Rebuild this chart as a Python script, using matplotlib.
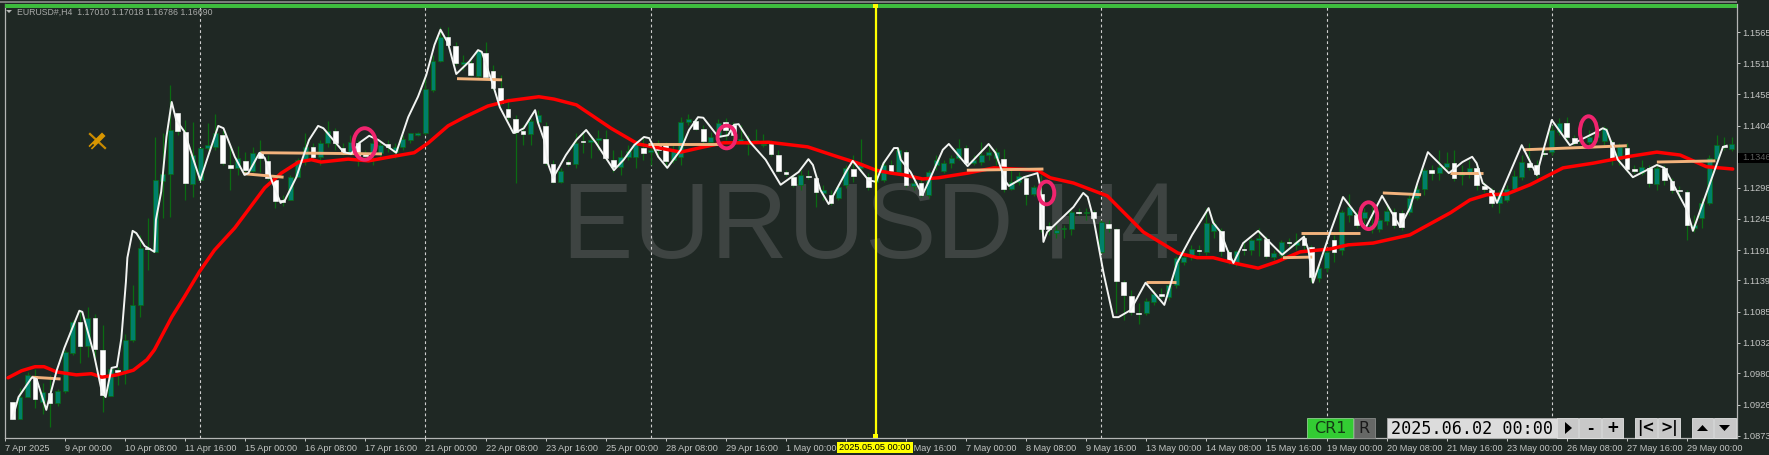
import matplotlib
matplotlib.use("Agg")
import numpy as np
import matplotlib.pyplot as plt
from matplotlib.patches import Rectangle, Ellipse, Polygon

# EURUSD H4 chart, prices are written in 1/10000 (10931 = 1.0931)
opens = [10931,10901,10939,10975,10931,10946,10929,10949,11015,11068,11027,11075,11020,10941,10985,10984,11037,11097,11195,11188,
11310,11322,11426,11394,11304,11311,11366,11368,11388,11337,11332,11344,11327,11358,11344,11311,11277,11277,11316,11346,
11368,11351,11375,11395,11366,11358,11375,11358,11358,11358,11373,11359,11368,11380,11388,11392,11466,11515,11557,11541,
11510,11512,11490,11529,11498,11469,11433,11416,11395,11390,11411,11404,11339,11308,11342,11339,11378,11376,11380,11382,
11346,11334,11351,11351,11366,11359,11371,11373,11346,11351,11411,11412,11399,11376,11385,11411,11406,11378,11373,11378,
11371,11373,11354,11325,11316,11303,11318,11315,11289,11286,11280,11303,11330,11332,11316,11308,11311,11337,11325,11359,
11301,11306,11286,11337,11327,11340,11349,11366,11340,11342,11354,11349,11347,11296,11308,11315,11287,11287,11232,11220,
11227,11227,11256,11255,11256,11188,11236,11227,11136,11112,11083,11083,11102,11116,11111,11131,11171,11183,11191,11188,
11224,11224,11188,11169,11193,11191,11208,11210,11179,11183,11205,11200,11212,11196,11143,11160,11208,11191,11251,11251,
11246,11227,11227,11241,11256,11255,11256,11280,11296,11328,11323,11334,11340,11320,11325,11332,11301,11294,11272,11277,
11296,11316,11340,11337,11358,11359,11394,11409,11383,11375,11376,11385,11378,11376,11347,11366,11330,11323,11332,11304,
11332,11310,11294,11291,11229,11246,11272,11347,11370,11364]
highs = [10931,10955,10982,10987,10963,10977,10953,11020,11071,11088,11093,11081,11063,10987,10991,11047,11131,11217,11246,11385,
11392,11474,11426,11414,11411,11366,11409,11424,11397,11368,11370,11359,11368,11380,11354,11320,11286,11320,11349,11392,
11375,11380,11412,11400,11375,11388,11380,11363,11388,11380,11380,11375,11388,11392,11394,11491,11526,11574,11574,11548,
11526,11517,11534,11548,11509,11491,11452,11423,11406,11418,11431,11411,11346,11332,11346,11392,11395,11388,11397,11397,
11363,11363,11371,11380,11383,11375,11380,11376,11371,11419,11424,11418,11406,11394,11416,11418,11411,11406,11388,11399,
11390,11380,11363,11328,11320,11328,11328,11320,11303,11294,11303,11337,11354,11382,11323,11328,11342,11346,11366,11363,
11320,11315,11328,11354,11346,11354,11382,11371,11354,11376,11371,11366,11364,11328,11325,11318,11303,11320,11239,11234,
11234,11260,11263,11263,11260,11243,11243,11229,11140,11123,11100,11109,11123,11126,11135,11181,11191,11200,11200,11263,
11243,11229,11191,11191,11208,11212,11229,11215,11191,11208,11212,11220,11217,11200,11166,11195,11217,11260,11287,11256,
11263,11268,11246,11268,11263,11260,11286,11303,11332,11337,11363,11359,11363,11337,11346,11337,11308,11298,11294,11303,
11328,11354,11375,11346,11366,11406,11418,11419,11388,11383,11397,11406,11404,11380,11375,11375,11337,11346,11337,11337,
11337,11315,11301,11294,11251,11280,11354,11388,11385,11385]
lows = [10901,10901,10939,10920,10910,10888,10924,10946,11011,10997,11008,11006,10913,10941,10960,10961,11033,11076,11157,11188,
11246,11248,11388,11277,11282,11311,11363,11363,11337,11294,11320,11325,11325,11325,11311,11263,11267,11277,11316,11337,
11346,11337,11368,11363,11354,11354,11335,11346,11337,11349,11359,11349,11363,11375,11387,11388,11462,11514,11541,11509,
11500,11490,11486,11483,11466,11440,11414,11306,11371,11371,11406,11337,11306,11306,11335,11332,11358,11349,11363,11346,
11325,11320,11346,11332,11346,11337,11354,11337,11340,11337,11406,11397,11375,11375,11380,11380,11380,11375,11354,11375,
11368,11352,11325,11318,11299,11294,11313,11265,11277,11268,11277,11298,11308,11325,11294,11298,11308,11323,11320,11299,
11294,11282,11280,11328,11323,11332,11346,11337,11337,11337,11346,11337,11291,11294,11303,11268,11284,11222,11217,11212,
11212,11217,11251,11243,11239,11186,11222,11083,11071,11080,11064,11080,11097,11109,11105,11126,11166,11174,11183,11183,
11212,11181,11167,11164,11183,11183,11181,11178,11174,11178,11198,11191,11191,11136,11136,11154,11171,11183,11239,11229,
11236,11220,11222,11234,11229,11226,11251,11277,11286,11311,11311,11328,11310,11303,11315,11294,11291,11265,11255,11274,
11291,11311,11328,11315,11352,11354,11388,11382,11371,11368,11371,11376,11371,11337,11337,11325,11323,11320,11299,11294,
11303,11289,11280,11208,11222,11229,11268,11346,11363,11361]
closes = [10901,10939,10977,10936,10948,10929,10949,11016,11068,11027,11075,11021,10943,10987,10982,11037,11097,11195,11193,11311,
11322,11397,11395,11306,11354,11366,11371,11392,11340,11332,11349,11328,11358,11349,11315,11275,11274,11316,11346,11368,
11351,11375,11395,11375,11359,11376,11352,11352,11375,11371,11368,11368,11382,11392,11392,11467,11515,11557,11543,11512,
11514,11491,11533,11488,11469,11443,11419,11394,11390,11412,11423,11340,11308,11327,11339,11375,11376,11380,11383,11349,
11334,11351,11361,11373,11358,11363,11363,11344,11363,11411,11416,11399,11378,11385,11409,11397,11388,11382,11376,11380,
11373,11356,11327,11322,11303,11320,11316,11291,11294,11272,11299,11332,11318,11340,11299,11320,11337,11327,11363,11303,
11306,11286,11325,11346,11340,11349,11366,11340,11346,11354,11359,11359,11296,11308,11318,11287,11299,11227,11227,11226,
11229,11256,11255,11256,11246,11239,11229,11138,11114,11085,11081,11104,11116,11112,11131,11178,11179,11193,11190,11238,
11236,11190,11171,11190,11191,11208,11212,11181,11186,11205,11203,11205,11200,11145,11160,11188,11188,11256,11265,11234,
11256,11234,11243,11258,11234,11231,11280,11296,11328,11323,11334,11340,11315,11325,11332,11303,11296,11272,11286,11296,
11318,11342,11334,11322,11356,11397,11409,11385,11375,11376,11385,11392,11400,11349,11368,11330,11327,11334,11306,11332,
11311,11294,11292,11234,11234,11272,11349,11371,11368,11373]

# fast smoothed line (white)
white_bar = [0.0,0.8,2.6,3.2,4.5,4.9,5.9,6.9,8.9,9.3,10.8,11.9,12.4,13.2,13.9,14.5,15.1,15.3,16.0,16.5,17.6,18.9,19.1,19.8,20.5,21.2,21.8,22.9,24.1,25.0,
26.1,27.4,28.1,29.6,30.9,31.4,32.9,33.6,34.5,35.7,36.3,37.8,38.7,39.5,40.7,41.4,44.1,45.1,46.2,47.5,48.7,51.1,52.7,54.0,55.1,56.2,57.0,58.0,59.1,60.8,
62.0,62.5,64.0,64.9,66.7,66.9,68.1,69.6,70.0,70.8,71.3,72.0,73.7,75.1,76.4,77.7,80.1,81.4,82.8,84.1,84.8,86.0,87.2,89.0,90.1,91.3,92.0,94.0,95.3,96.1,
96.7,98.3,100.3,102.3,104.7,106.0,106.6,107.6,108.7,111.0,111.9,114.0,115.0,116.0,117.4,117.9,118.3,119.6,121.2,122.0,123.9,124.7,127.2,130.0,130.9,132.3,132.7,134.7,136.5,136.9,
137.3,137.8,141.3,142.6,143.2,144.0,145.3,146.6,147.3,148.9,150.9,153.4,155.1,157.1,159.3,159.9,160.9,161.8,162.6,163.9,165.9,169.1,172.0,172.6,173.2,175.5,177.2,179.1,180.2,182.4,
184.8,186.1,187.1,188.5,191.3,193.1,194.4,195.0,195.8,197.0,197.7,201.0,203.0,203.8,205.0,207.4,210.7,211.8,212.3,213.8,215.8,219.0,220.0,223.0,223.8,227.8,228.3]
white_val = [10903,10939,10973,10970,10917,10937,10985,11023,11087,11085,11015,10948,10939,10989,10991,11040,11136,11178,11224,11220,11198,11188,11243,11291,11385,11445,11414,11394,11346,11311,
11354,11404,11400,11351,11320,11323,11358,11349,11311,11272,11277,11316,11351,11380,11404,11400,11359,11356,11375,11387,11380,11358,11419,11454,11491,11543,11569,11546,11493,11514,
11534,11531,11474,11436,11392,11392,11400,11431,11409,11380,11340,11315,11354,11380,11397,11375,11328,11346,11371,11385,11383,11351,11332,11363,11397,11419,11418,11385,11388,11406,
11407,11375,11346,11303,11325,11347,11337,11294,11270,11325,11344,11311,11308,11340,11366,11366,11346,11325,11286,11308,11363,11373,11335,11373,11358,11308,11301,11316,11323,11299,
11205,11222,11265,11289,11282,11243,11152,11076,11076,11088,11135,11097,11169,11217,11263,11238,11222,11191,11169,11203,11224,11183,11214,11191,11135,11222,11282,11250,11229,11284,
11231,11263,11306,11359,11323,11342,11351,11340,11306,11294,11272,11371,11320,11359,11414,11371,11392,11400,11397,11346,11316,11337,11332,11260,11224,11368,11370]

# slow moving average (red)
red_bar = [-0.6,1.2,3.0,4.2,5.9,8.5,10.5,11.9,13.9,16.1,17.9,18.9,21.2,22.9,24.9,26.9,29.6,31.4,33.6,35.8,38.1,39.8,41.1,44.7,47.4,50.4,53.5,55.4,58.0,60.2,
63.3,66.0,70.1,72.1,75.1,79.7,83.3,85.4,89.0,92.1,94.7,97.9,100.7,105.9,109.9,112.6,115.0,117.0,118.7,121.2,123.3,127.2,130.7,136.5,138.2,141.3,145.8,150.6,155.2,157.8,
159.9,162.6,165.9,168.4,171.5,175.5,177.9,181.2,186.1,191.5,194.1,196.4,199.0,202.1,206.5,210.5,215.0,219.0,222.1,225.6,229.1]
red_val = [10972,10984,10991,10991,10982,10977,10979,10973,10977,10985,11003,11020,11076,11111,11154,11191,11229,11260,11298,11323,11342,11346,11342,11347,11344,11351,11358,11375,11404,11419,
11438,11447,11454,11450,11440,11400,11373,11368,11359,11368,11375,11375,11376,11368,11351,11340,11328,11323,11320,11313,11315,11323,11332,11328,11315,11306,11284,11222,11186,11178,
11178,11169,11160,11171,11188,11193,11200,11203,11217,11255,11277,11286,11287,11303,11332,11340,11351,11359,11354,11334,11330]

# orange support/resistance segments: start bar, end bar, start price, end price
seg_x0 = [2.6,30.8,33.0,59.2,84.6,127.1,150.9,169.2,171.6,182.5,191.5,201.2,219.0]
seg_x1 = [6.4,36.1,49.2,65.2,94.1,137.3,154.9,173.1,179.5,187.6,195.8,215.0,226.8]
seg_y0 = [10973,11322,11358,11485,11373,11328,11136,11178,11220,11289,11323,11363,11342]
seg_y1 = [10970,11316,11356,11483,11373,11330,11136,11179,11220,11286,11323,11370,11344]

# pink circles: centre bar, centre price
circle_bar = [46.9,95.1,137.7,180.6,209.9]
circle_val = [11373,11385,11289,11250,11394]
circle_w = [3.0,2.4,2.1,2.3,2.3]
circle_h = [54,39,39,46,53]

time_labels = ["7 Apr 2025","9 Apr 00:00","10 Apr 08:00","11 Apr 16:00","15 Apr 00:00","16 Apr 08:00","17 Apr 16:00",
"21 Apr 00:00","22 Apr 08:00","23 Apr 16:00","25 Apr 00:00","28 Apr 08:00","29 Apr 16:00","1 May 00:00","2 May 08:00",
"5 May 16:00","7 May 00:00","8 May 08:00","9 May 16:00","13 May 00:00","14 May 08:00","15 May 16:00","19 May 00:00",
"20 May 08:00","21 May 16:00","23 May 00:00","26 May 08:00","27 May 16:00","29 May 00:00"]
price_ticks = [1.1565,1.1511,1.1458,1.1404,1.1298,1.1245,1.1191,1.1139,1.1085,1.1032,1.0980,1.0926,1.0873]
price_labels = ["1.15652","1.15118","1.14584","1.14048","1.12980","1.12450","1.11916","1.11390","1.10852","1.10320","1.09802","1.09268","1.08734"]
period_bars = [25,55,85,145,175,205]
cursor_bar = 115
last_price = 1.1346

W, H = 1769, 455
BG = "#1f2824"
GREY = "#c4c6c4"
fig = plt.figure(figsize=(W/100, H/100), dpi=100, facecolor=BG)
ax = fig.add_axes([5/W, 1-438/H, 1732/W, 434/H], facecolor=BG)

o = np.array(opens)/10000
c = np.array(closes)/10000
hi = np.array(highs)/10000
lo = np.array(lows)/10000
bars = np.arange(len(o))
up = c >= o

ax.text(562/W, 1-258/H, "EURUSD H4", transform=fig.transFigure, family="Liberation Sans",
        fontsize=77, color="#3e4442", zorder=0.5, va="baseline", ha="left")

for b in period_bars:
    ax.axvline(b, color="#d0d0d0", lw=0.8, ls=(0, (2.5, 2.5)), ymax=0.992, zorder=1)

# candles
ax.vlines(bars, lo, hi, color="#0a6b12", lw=0.9, zorder=2)
ax.bar(bars[up], (c-o)[up], bottom=o[up], width=0.66, color="#00806a", edgecolor="#0a6b12", linewidth=0.5, zorder=3)
ax.bar(bars[~up], (o-c)[~up], bottom=c[~up], width=0.62, color="#ffffff", edgecolor="#ffffff", linewidth=0.4, zorder=3)

ax.axvline(cursor_bar, color="#ffff00", lw=1.6, zorder=7)

ax.plot(red_bar, np.array(red_val)/10000, color="#ff0000", lw=2.5, zorder=4, solid_capstyle="round")
for x0, x1, y0, y1 in zip(seg_x0, seg_x1, seg_y0, seg_y1):
    ax.plot([x0, x1], [y0/10000, y1/10000], color="#f2b27c", lw=2.1, zorder=5, solid_capstyle="butt")
ax.plot(white_bar, np.array(white_val)/10000, color="#f2f4f2", lw=1.4, zorder=6)
for x, y, w, h in zip(circle_bar, circle_val, circle_w, circle_h):
    ax.add_patch(Ellipse((x, y/10000), w, h/10000, fill=False, ec="#f0246e", lw=2.8, zorder=8))

ax.set_xlim(-0.77, 229.67)
ax.set_ylim(1.16199-0.0001715*438, 1.16199-0.0001715*4)

ax.yaxis.tick_right()
ax.set_yticks(price_ticks)
ax.set_yticklabels(price_labels, family="Liberation Sans", fontsize=6.7, color=GREY)
ax.set_xticks(np.arange(len(time_labels))*8-1)
ax.set_xticklabels(time_labels, family="Liberation Sans", fontsize=6.6, color=GREY, ha="left")
ax.tick_params(axis="y", length=2.5, width=0.7, color=GREY, pad=1.5)
ax.tick_params(axis="x", length=2.5, width=0.7, color=GREY, pad=1.5)
for s in ["top"]:
    ax.spines[s].set_visible(False)
for s in ["left", "right", "bottom"]:
    ax.spines[s].set_color("#b4b6b4")
    ax.spines[s].set_linewidth(0.9)


# everything below is terminal chrome, placed in screen pixels
def box(x0, y0, x1, y1, color, ec="none", lw=0, z=4):
    fig.add_artist(Rectangle((x0/W, 1-y1/H), (x1-x0)/W, (y1-y0)/H, transform=fig.transFigure,
                             facecolor=color, edgecolor=ec, linewidth=lw, zorder=z))


def label(x, y, s, color="#000000", size=6, family="Liberation Sans", ha="center", z=6, weight="normal"):
    fig.text(x/W, 1-y/H, s, color=color, fontsize=size, family=family, ha=ha, va="center", zorder=z, weight=weight)


def tri(points, color):
    fig.add_artist(Polygon([(x/W, 1-y/H) for x, y in points], closed=True, transform=fig.transFigure,
                           facecolor=color, edgecolor="none", zorder=6))


box(0, 1, 1737, 3, "#7a7c7a")
box(5, 4, 1737, 7.5, "#3dbb3d")
box(872.5, 4, 877.5, 8, "#ffff00", z=7)
box(872.5, 434, 877.5, 438, "#ffff00", z=7)
tri([(6, 10), (12, 10), (9, 13)], "#b8bab8")
label(17, 12, "EURUSD#,H4  1.17010 1.17018 1.16786 1.16690", "#a8aaa8", 6.35, ha="left")

# pencil icon
fig.add_artist(plt.Line2D([90/W, 105/W], [1-134/H, 1-148/H], color="#c98a00", lw=1.6, transform=fig.transFigure, zorder=6))
fig.add_artist(plt.Line2D([92/W, 102/W], [1-146/H, 1-136/H], color="#d89600", lw=3.6, transform=fig.transFigure, zorder=6))
fig.add_artist(plt.Line2D([90/W, 93/W], [1-148/H, 1-145/H], color="#1f2824", lw=1.2, transform=fig.transFigure, zorder=7))

# cursor date tag and current price box
box(837, 442, 913, 452.5, "#ffff00", z=5)
label(875, 447.5, "2025.05.05 00:00", "#000000", 6.6, z=6)
box(1738, 153, W, 163, "#000000", z=5)
label(1742, 158, "1.13462", "#5c5e5c", 6.7, ha="left", z=6)

# control panel
box(1307, 418, 1353, 438, "#33cc33", ec="#8fd08f", lw=0.6)
label(1330, 428.5, "CR1", "#143a14", 11.5, "DejaVu Sans")
box(1353.5, 418, 1375, 438, "#666866", ec="#888a88", lw=0.6)
label(1364, 428.5, "R", "#1a1a1a", 11.5, "DejaVu Sans")
box(1387, 418, 1557, 438, "#dcdcdc", ec="#aaaaaa", lw=0.6)
label(1391, 428.5, "2025.06.02 00:00", "#000000", 12.1, "DejaVu Sans Mono", ha="left")
for x0, x1 in [(1557, 1578), (1579, 1601), (1602, 1623), (1635, 1657), (1658, 1680), (1692, 1713), (1714, 1736)]:
    box(x0, 418, x1, 438, "#c8c8c8", ec="#e4e4e4", lw=0.6)
tri([(1565, 422), (1565, 434), (1572, 428)], "#000000")
label(1590, 428, "-", "#000000", 11, "DejaVu Sans", weight="bold")
label(1612.5, 428, "+", "#000000", 11, "DejaVu Sans", weight="bold")
label(1646, 428, "|<", "#000000", 10.5, "DejaVu Sans", weight="bold")
label(1669, 428, ">|", "#000000", 10.5, "DejaVu Sans", weight="bold")
tri([(1697, 431), (1708, 431), (1702.5, 425)], "#000000")
tri([(1719, 425), (1730, 425), (1724.5, 431)], "#000000")

fig.savefig("out.png", dpi=100, facecolor=BG)
